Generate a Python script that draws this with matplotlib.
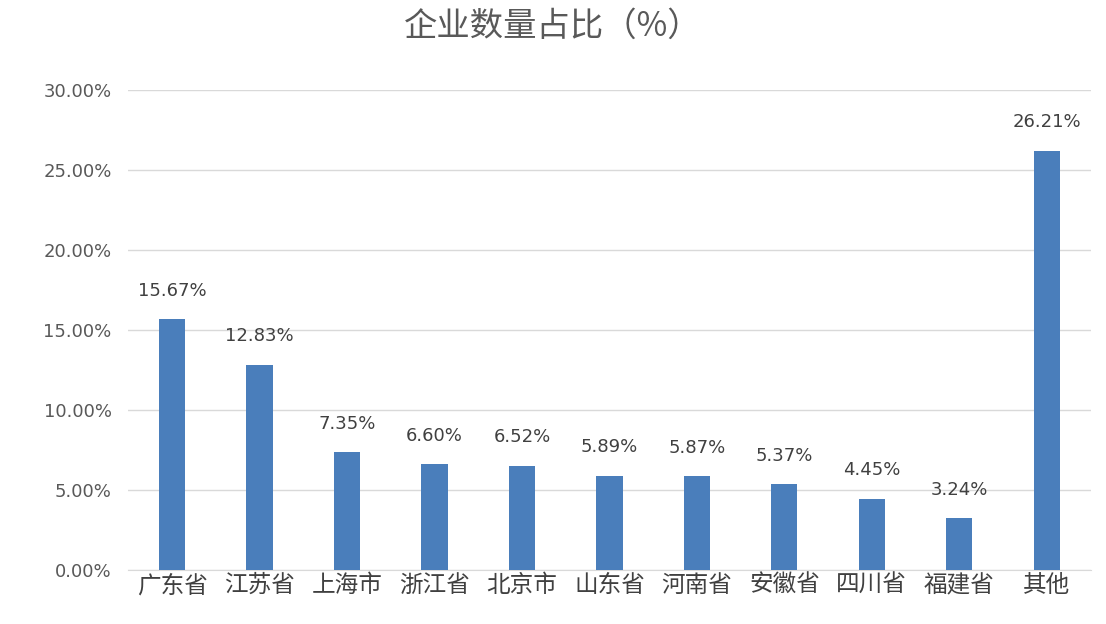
import matplotlib
matplotlib.use("Agg")
import matplotlib.pyplot as plt
from matplotlib.ticker import FuncFormatter

plt.rcParams['font.family'] = ['Noto Sans CJK SC', 'DejaVu Sans']

categories = ["广东省", "江苏省", "上海市", "浙江省", "北京市", "山东省", "河南省", "安徽省", "四川省", "福建省", "其他"]
values = [15.67, 12.83, 7.35, 6.60, 6.52, 5.89, 5.87, 5.37, 4.45, 3.24, 26.21]

fig = plt.figure(figsize=(11.06, 6.24), dpi=100)
ax = fig.add_axes([0.116, 0.0865, 0.870, 0.7695])
x = range(len(categories))
ax.bar(x, values, width=0.3, color="#4a7ebb", zorder=3)
for i, v in zip(x, values):
    ax.annotate(f"{v:.2f}%", (i, v), xytext=(0, 14), textcoords="offset points",
                ha="center", va="bottom", fontsize=13, color="#404040", family="DejaVu Sans")
ax.set_xlim(-0.5, len(categories) - 0.5)
ax.set_ylim(0, 30)
ax.set_yticks([0, 5, 10, 15, 20, 25, 30])
ax.yaxis.set_major_formatter(FuncFormatter(lambda v, p: f"{v:.2f}%"))
ax.grid(axis="y", color="#d9d9d9", linewidth=1, zorder=0)
for s in ["top", "right", "left"]:
    ax.spines[s].set_visible(False)
ax.spines["bottom"].set_color("#d9d9d9")
ax.set_xticks(list(x))
ax.set_xticklabels(categories, fontsize=17, color="#404040")
for t in ax.get_yticklabels():
    t.set_family("DejaVu Sans")
ax.tick_params(axis="y", labelsize=13, colors="#595959", length=0, pad=12)
ax.tick_params(axis="x", length=0, pad=3)
fig.text(0.5, 0.958, "企业数量占比（%）", ha="center", va="center", fontsize=24, color="#595959")
fig.savefig("out.png", dpi=100)
